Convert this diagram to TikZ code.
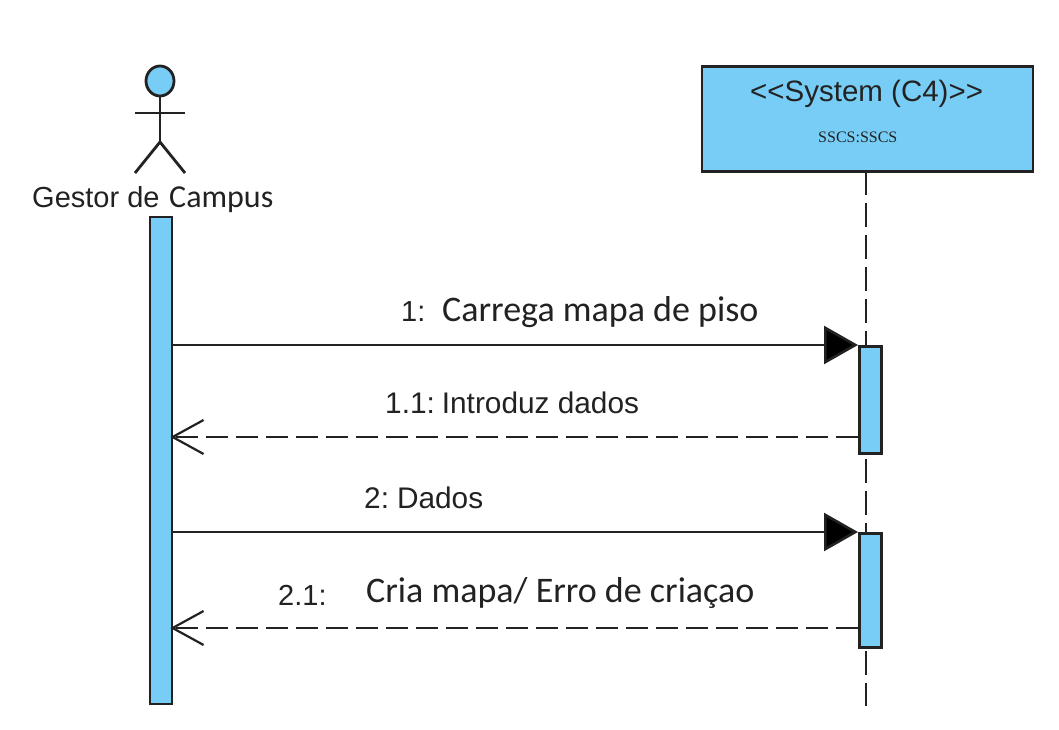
\documentclass[tikz,border=0pt]{standalone}
\usepackage{fontspec}
\setmainfont{Liberation Sans}
\newfontfamily\carlitofont{Carlito}
\newfontfamily\serifont{Liberation Serif}
\usetikzlibrary{arrows.meta,shapes.geometric}
\definecolor{fillblue}{HTML}{78CDF6}
\definecolor{ink}{HTML}{222222}
\tikzset{
 x=1pt,y=-1pt,
 bluebox/.style={draw=ink,fill=fillblue,line width=2.8pt,inner sep=0pt,minimum width=0pt},
 txt/.style={inner sep=0pt,text=ink,anchor=base west},
 limb/.style={draw=ink,line width=2.8pt},
 msg/.style={draw=ink,line width=2.6pt,-{Triangle[length=34pt,width=38pt,fill=black]}},
 reply/.style={draw=ink,line width=2.6pt,dash pattern=on 22pt off 8pt,shorten >=-3pt,-{Straight Barb[length=31pt,width=34pt,line width=2.2pt]}},
 life/.style={draw=ink,line width=2.6pt,dash pattern=on 24pt off 8pt},
}
\begin{document}
\begin{tikzpicture}
\useasboundingbox (0,0) rectangle (1059,730);
% actor
\node[ellipse,bluebox,minimum width=28pt,minimum height=30pt] (head) at (160,81) {};
\coordinate (hip) at (160,142);
\coordinate (armL) at (135,113);\coordinate (armR) at (185,113);
\coordinate (legL) at (135,173);\coordinate (legR) at (185,173);
\draw[limb] (head.south) -- (hip);
\draw[limb] (armL) -- (armR);
\draw[limb] (legL) -- (hip) -- (legR);
\node[txt,font=\fontsize{29}{29}\selectfont] (g) at (32,207) {Gestor de};
\node[txt,font=\carlitofont\fontsize{32}{32}\selectfont] (c) at (169,207) {Campus};
% system
\node[bluebox,minimum width=331pt,minimum height=105pt,anchor=north west] (sys) at (700.5,65.5) {};
\node[txt,font=\fontsize{29.5}{29.5}\selectfont] (st) at (750,102) {<{}<System (C4)>{}>};
\node[txt,font=\serifont\fontsize{16}{16}\selectfont] (ss) at (818,143) {SSCS:SSCS};
\coordinate (lifeEnd) at (866,706);
\draw[life] (866,171) -- (lifeEnd);
% activations
\node[bluebox,minimum width=22pt,minimum height=487pt,anchor=north west] (A) at (148.5,215.5) {};
\node[bluebox,minimum width=22pt,minimum height=107pt,anchor=north west] (B1) at (858,345) {};
\node[bluebox,minimum width=22pt,minimum height=114pt,anchor=north west] (B2) at (858,532) {};
% messages
\draw[msg] (A.east |- B1.north) -- (B1.north west);
\coordinate (r1) at (858,437);
\draw[reply] (r1) -- (r1 -| A.east);
\draw[msg] (A.east |- B2.north) -- (B2.north west);
\coordinate (r2) at (858,628);
\draw[reply] (r2) -- (r2 -| A.east);
\node[txt,font=\fontsize{29}{29}\selectfont] (m1a) at (401,321) {1:};
\node[txt,font=\carlitofont\fontsize{36}{36}\selectfont] (m1) at (442,321) {Carrega mapa de piso};
\node[txt,font=\fontsize{29.8}{29.8}\selectfont] (m2) at (385,413) {1.1:\hspace{7pt}Introduz dados};
\node[txt,font=\fontsize{29.8}{29.8}\selectfont] (m3) at (364,508) {2:\hspace{8pt}Dados};
\node[txt,font=\fontsize{29}{29}\selectfont] (m4a) at (278,605) {2.1:};
\node[txt,font=\carlitofont\fontsize{36}{36}\selectfont] (m4) at (366,602) {Cria mapa/ Erro de criaçao};
\end{tikzpicture}
\end{document}
